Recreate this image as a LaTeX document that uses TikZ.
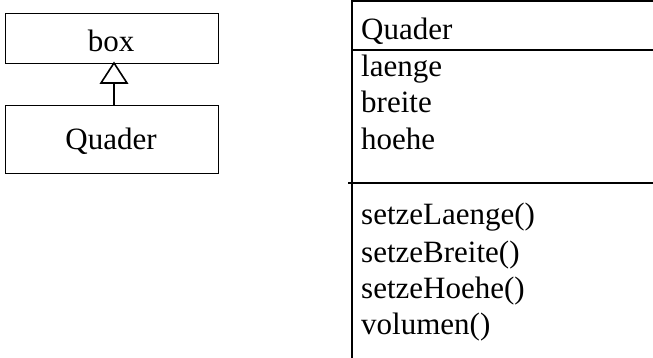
\documentclass[tikz,border=0pt]{standalone}
\usepackage{fontspec}
\setmainfont{Liberation Serif}
\begin{document}
\begin{tikzpicture}[x=1pt,y=-1pt,
  every node/.style={font=\fontsize{31}{36}\selectfont, inner sep=0pt},
  txt/.style={anchor=base west},
  ln/.style={line width=1.4pt}]
\useasboundingbox (0,0) rectangle (653,358);
% left boxes
\node[draw, ln, minimum width=213pt, minimum height=50pt, anchor=north west] (box) at (5,13) {};
\node[anchor=base] (boxt) at (111,52) {box};
\node[draw, ln, minimum width=213pt, minimum height=68pt, anchor=north west] (quad) at (5,105) {};
\node[anchor=base] (quadt) at (111,150) {Quader};
\coordinate (tip) at (114,63);
\coordinate (bl) at (101,83);
\coordinate (br) at (127,83);
\coordinate (bm) at (114,83);
\draw[line width=1.6pt, fill=white] (tip) -- (br) -- (bl) -- cycle;
\draw[line width=2.2pt] (bm) -- (quad.north -| bm);
% right class box
\coordinate (tl) at (352,1);
\coordinate (tr) at (653,1);
\coordinate (bot) at (352,358);
\coordinate (m1l) at (352,50);
\coordinate (m1r) at (653,50);
\coordinate (m2l) at (348,183);
\coordinate (m2r) at (653,183);
\draw[ln] (tr) -- (tl) -- (bot);
\draw[ln] (m1l) -- (m1r);
\draw[ln] (m2l) -- (m2r);
\node[txt] (cn) at (361,40) {Quader};
\node[txt] (a1) at (361,77) {laenge};
\node[txt] (a2) at (361,113) {breite};
\node[txt] (a3) at (361,150) {hoehe};
\node[txt] (o1) at (361,225) {setzeLaenge()};
\node[txt] (o2) at (361,262) {setzeBreite()};
\node[txt] (o3) at (361,298) {setzeHoehe()};
\node[txt] (o4) at (361,334) {volumen()};
\end{tikzpicture}
\end{document}
